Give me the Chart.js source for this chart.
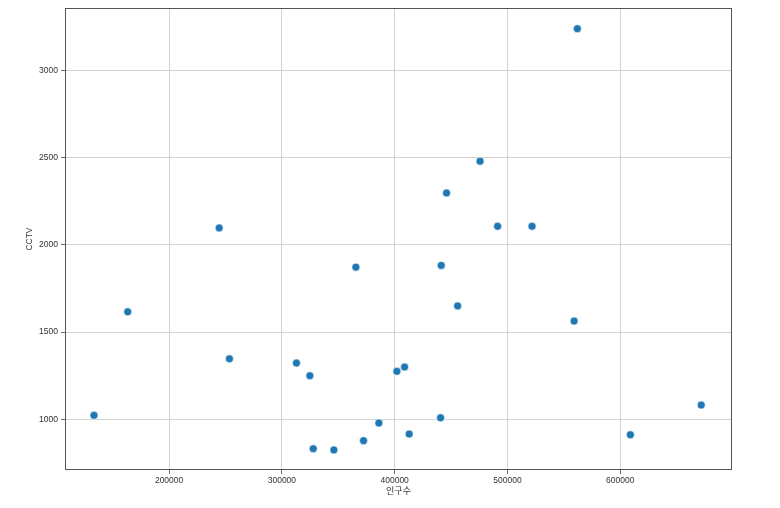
<!DOCTYPE html>
<html>
<head>
<meta charset="utf-8">
<script src="https://cdn.jsdelivr.net/npm/chart.js@4"></script>
<style>
html,body{margin:0;padding:0;background:#fff;}
#wrap{width:780px;height:508px;}
</style>
</head>
<body>
<div id="wrap"><canvas id="c" width="780" height="508"></canvas></div>
<script>
const population = [133400, 163300, 244400, 253500, 365600, 441300, 455800, 312900, 324800, 402000, 408800, 386000, 440700, 412900, 372400, 327800, 346100, 559100, 671800, 609000, 475700, 446000, 491300, 521800, 562000];
const cctv = [1023, 1616, 2097, 1347, 1872, 1882, 1650, 1323, 1250, 1275, 1300, 979, 1009, 916, 878, 832, 825, 1563, 1082, 912, 2479, 2297, 2106, 2106, 3238];
const xTicks = [200000, 300000, 400000, 500000, 600000];
const yTicks = [1000, 1500, 2000, 2500, 3000];
const xLabel = '인구수';
const yLabel = 'CCTV';

const points = population.map((v, i) => ({x: v, y: cctv[i]}));
const FONT = "'Liberation Sans', Arial, 'Noto Sans CJK KR', sans-serif";

const framePlugin = {
  id: 'frame',
  afterDraw(chart) {
    const {ctx, chartArea: a} = chart;
    ctx.save();
    ctx.strokeStyle = '#555';
    ctx.lineWidth = 1;
    ctx.strokeRect(Math.round(a.left) + 0.5, Math.round(a.top) + 0.5, Math.round(a.right - a.left) - 1, Math.round(a.bottom - a.top) - 1);
    ctx.restore();
  }
};

new Chart(document.getElementById('c'), {
  type: 'scatter',
  data: {
    datasets: [{
      data: points,
      backgroundColor: '#1f77b4',
      borderColor: '#ffffff',
      borderWidth: 0.6,
      pointRadius: 4,
      pointHoverRadius: 4
    }]
  },
  options: {
    responsive: false,
    animation: false,
    layout: {padding: {left: 0, right: 48, top: 7, bottom: 0}},
    plugins: {legend: {display: false}, tooltip: {enabled: false}},
    scales: {
      x: {
        type: 'linear',
        min: 107700,
        max: 699100,
        afterBuildTicks: s => { s.ticks = xTicks.map(v => ({value: v})); },
        afterFit: s => { s.height = 38; },
        grid: {color: '#c8c8c8', lineWidth: 0.8, drawTicks: true, tickLength: 4, tickColor: '#444'},
        border: {display: false},
        ticks: {color: '#333', font: {family: FONT, size: 8.5}, padding: 2, maxRotation: 0, autoSkip: false, callback: v => String(v)},
        title: {display: true, text: xLabel, color: '#333', font: {family: FONT, size: 9}, padding: {top: 0, bottom: 11}}
      },
      y: {
        type: 'linear',
        min: 710,
        max: 3356,
        afterBuildTicks: s => { s.ticks = yTicks.map(v => ({value: v})); },
        afterFit: s => { s.width = 65; },
        grid: {color: '#c8c8c8', lineWidth: 0.8, drawTicks: true, tickLength: 4, tickColor: '#444'},
        border: {display: false},
        ticks: {color: '#333', font: {family: FONT, size: 8.5}, padding: 3, autoSkip: false, callback: v => String(v)},
        title: {display: true, text: yLabel, color: '#333', font: {family: FONT, size: 8.5}, padding: {top: 25, bottom: 0}}
      }
    }
  },
  plugins: [framePlugin]
});
</script>
</body>
</html>
